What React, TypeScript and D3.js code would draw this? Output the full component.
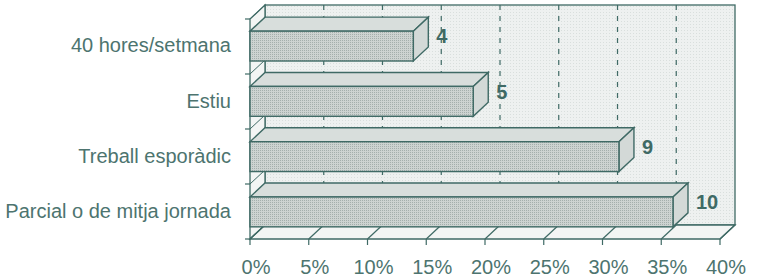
import React from 'react';
import * as d3 from 'd3';

const categories = ['40 hores/setmana', 'Estiu', 'Treball esporàdic', 'Parcial o de mitja jornada'];
const counts = [4, 5, 9, 10];
const percents = [13.9, 19.0, 31.4, 36.0];
const xTicks = [0, 5, 10, 15, 20, 25, 30, 35, 40];

const W = 769;
const H = 277;
const left = 250;
const right = 720;
const top = 19;
const bottom = 239;
const dx = 15;
const dy = -14;

const ink = '#3f6a65';
const textInk = '#4d746f';
const font = '"Liberation Sans", Arial, sans-serif';

export default function App() {
  const x = d3.scaleLinear().domain([0, 40]).range([left, right]);
  const y = d3.scaleBand<string>().domain(categories).range([top, bottom]).paddingInner(0.46).paddingOuter(0.22);
  const bounds = d3.range(categories.length + 1).map(i => top + (i * (bottom - top)) / categories.length);
  const pts = (p: number[][]) => p.map(d => d.join(',')).join(' ');

  return (
    <svg width={W} height={H} style={{ position: 'absolute', left: 0, top: 0, background: '#fff' }}>
      <defs>
        <pattern id="dots" width="3" height="3" patternUnits="userSpaceOnUse">
          <rect width="3" height="3" fill="#eef1f0" />
          <rect width="1" height="1" fill="#d9dfdd" />
        </pattern>
        <pattern id="barDots" width="2" height="2" patternUnits="userSpaceOnUse">
          <rect width="2" height="2" fill="#cdd3d1" />
          <rect width="1" height="1" fill="#a4afac" />
        </pattern>
      </defs>

      {/* walls */}
      <rect x={left + dx} y={top + dy} width={right - left} height={bottom - top} fill="url(#dots)" stroke={ink} strokeWidth={1.3} />
      <polygon points={pts([[left, top], [left + dx, top + dy], [left + dx, bottom + dy], [left, bottom]])} fill="#f3f5f4" stroke={ink} strokeWidth={1.3} />
      <polygon points={pts([[left, bottom], [right, bottom], [right + dx, bottom + dy], [left + dx, bottom + dy]])} fill="#f3f5f4" stroke={ink} strokeWidth={1.3} />

      {/* grid */}
      {xTicks.slice(1, -1).map(t => (
        <line key={'g' + t} x1={x(t) + dx} x2={x(t) + dx} y1={top + dy} y2={bottom + dy} stroke={ink} strokeWidth={1.2} strokeDasharray="5,6" />
      ))}
      {xTicks.map(t => (
        <g key={'f' + t}>
          <line x1={x(t)} y1={bottom} x2={x(t) + dx} y2={bottom + dy} stroke={ink} strokeWidth={1.2} />
          <line x1={x(t)} y1={bottom} x2={x(t)} y2={bottom + 6} stroke={ink} strokeWidth={1.2} />
          <text x={x(t) + 6} y={274} textAnchor="middle" fontFamily={font} fontSize={20} fill={textInk}>{t}%</text>
        </g>
      ))}
      {bounds.map((b, i) => (
        <g key={'b' + i}>
          <line x1={left - 5} x2={left} y1={b} y2={b} stroke={ink} strokeWidth={1.2} />
          <line x1={left} x2={left + dx} y1={b} y2={b + dy} stroke={ink} strokeWidth={1} />
        </g>
      ))}

      {/* bars */}
      {categories.map((c, i) => {
        const y0 = y(c)!;
        const y1 = y0 + y.bandwidth();
        const xe = x(percents[i]);
        return (
          <g key={c}>
            <polygon points={pts([[left, y0], [xe, y0], [xe + dx, y0 + dy], [left + dx, y0 + dy]])} fill="#d8dedc" stroke={ink} strokeWidth={1.4} />
            <polygon points={pts([[xe, y0], [xe + dx, y0 + dy], [xe + dx, y1 + dy], [xe, y1]])} fill="#d3d9d7" stroke={ink} strokeWidth={1.4} />
            <rect x={left} y={y0} width={xe - left} height={y1 - y0} fill="url(#barDots)" stroke={ink} strokeWidth={1.4} />
            <text x={xe + dx + 8} y={(y0 + dy + y1) / 2 - 1} dominantBaseline="middle" fontFamily={font} fontSize={20} fontWeight="bold" fill={ink}>{counts[i]}</text>
            <text x={231} y={(y0 + y1) / 2 + 1} dominantBaseline="middle" textAnchor="end" fontFamily={font} fontSize={20} fill={textInk}>{c}</text>
          </g>
        );
      })}
    </svg>
  );
}
